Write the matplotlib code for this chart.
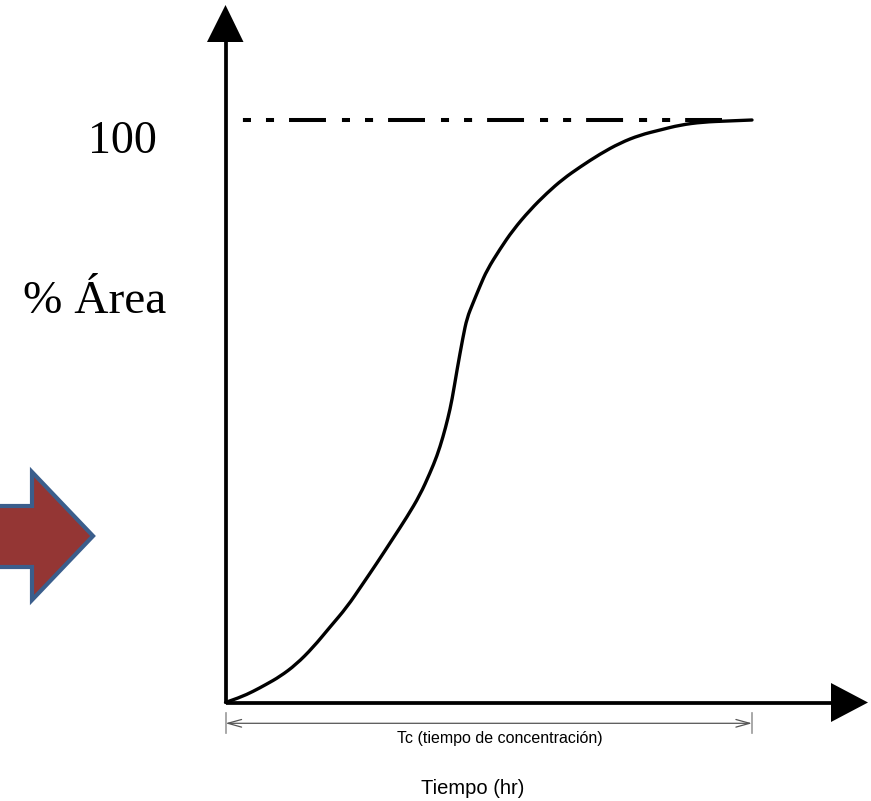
import matplotlib
matplotlib.use("Agg")
import matplotlib.pyplot as plt
from matplotlib.patches import Polygon, PathPatch
from matplotlib.path import Path

plt.rcParams['lines.scale_dashes'] = False

# Curva: % de area aportante vs tiempo (x en % de Tc, y en % de area)
tiempo = [0, 2.75, 5.22, 7.69, 10.35, 13.4, 16.62, 19.85, 23.08, 25.93, 28.77,
          31.62, 34.47, 36.94, 38.84, 40.17, 41.31, 42.26, 43.02, 43.97, 45.11,
          45.87, 47.01, 48.34, 49.67, 52.14, 54.61, 57.83, 61.06, 64.10, 67.33,
          71.13, 74.93, 78.73, 82.53, 86.32, 90.69, 95.44, 100]
area = [0, 0.86, 1.89, 3.09, 4.46, 6.52, 9.44, 12.96, 16.39, 20.17, 23.95,
        27.90, 31.85, 35.62, 39.40, 42.32, 45.58, 48.84, 51.93, 57.08, 62.75,
        66.01, 68.58, 71.50, 74.25, 77.85, 81.12, 84.55, 87.47, 89.87, 91.93,
        94.16, 96.05, 97.42, 98.28, 99.14, 99.66, 99.83, 100]
area_max = 100
tc = 100

W, H = 871, 801
# origine et echelle en pixels
X0, Y0 = 225.5, 702.5
SX, SY = 5.265, 5.825


def px(x):
    return (x - X0) / SX


def py(y):
    return (Y0 - y) / SY


fig = plt.figure(figsize=(W / 100, H / 100), dpi=100)
ax = fig.add_axes([0, 0, 1, 1])
ax.set_xlim(px(0), px(W))
ax.set_ylim(py(H), py(0))
ax.axis('off')

# axes avec fleches
ax.plot([0, 0], [0, py(40)], color='black', lw=2.7, solid_capstyle='butt')
ax.plot([0, px(833)], [0, 0], color='black', lw=2.7, solid_capstyle='butt')
ax.add_patch(Polygon([(px(207), py(42)), (px(243.5), py(42)), (px(225.5), py(5))],
                     closed=True, color='black', lw=0))
ax.add_patch(Polygon([(px(831), py(683)), (px(831), py(722)), (px(868), py(702.5))],
                     closed=True, color='black', lw=0))

# ligne 100 %
l, = ax.plot([0, px(722)], [area_max, area_max], color='black', lw=2.9,
             solid_capstyle='butt', dash_capstyle='butt')
l.set_linestyle((36 * 0.72, [26.6, 11.5, 5.8, 10.8, 5.8, 10.8]))

# courbe lissee (points lus = points de controle quadratiques)
pts = list(zip(tiempo, area))
verts = [pts[0]]
codes = [Path.MOVETO]
for i in range(1, len(pts) - 1):
    mid = ((pts[i][0] + pts[i + 1][0]) / 2, (pts[i][1] + pts[i + 1][1]) / 2)
    if i == len(pts) - 2:
        mid = pts[-1]
    verts += [pts[i], mid]
    codes += [Path.CURVE3, Path.CURVE3]
ax.add_patch(PathPatch(Path(verts, codes), facecolor='none', edgecolor='black',
                       lw=2.4, capstyle='round'))

# cote Tc
yd = py(723.3)
ax.annotate('', xy=(tc, yd), xytext=(0, yd),
            arrowprops=dict(arrowstyle='<->, head_length=0.9, head_width=0.25',
                            color='#555555', lw=0.9, shrinkA=0, shrinkB=0,
                            mutation_scale=11))
for xt in [0, tc]:
    ax.plot([xt, xt], [py(713), py(733)], color='#999999', lw=1.2)
ax.text(px(500), py(743), 'Tc (tiempo de concentración)', ha='center',
        va='baseline', fontsize=11.5, family='Liberation Sans')
ax.text(px(472.5), py(794), 'Tiempo (hr)', ha='center', va='baseline',
        fontsize=14.5, family='Liberation Sans')

# etiquettes axe y
ax.text(px(122.5), py(153), '100', ha='center', va='baseline', fontsize=33,
        family='Liberation Serif')
ax.text(px(95), py(313), '% Área', ha='center', va='baseline', fontsize=34,
        family='Liberation Serif')

# grosse fleche a gauche
fleche = [(-10, 506), (32, 506), (32, 472), (93, 536), (32, 600), (32, 567), (-10, 567)]
ax.add_patch(Polygon([(px(a), py(b)) for a, b in fleche], closed=True,
                     facecolor='#943634', edgecolor='#3b5e8c', lw=3, joinstyle='miter'))

fig.savefig('out.png', dpi=100)
